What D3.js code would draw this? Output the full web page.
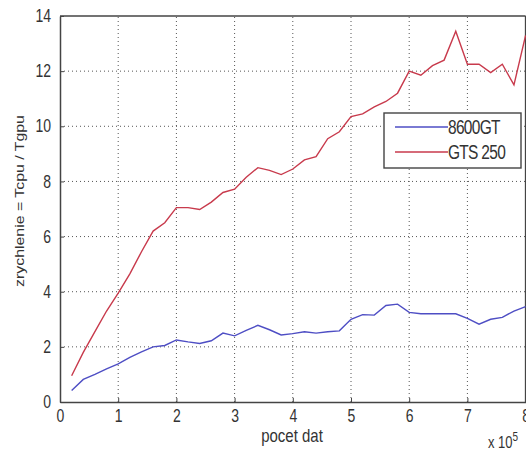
<!DOCTYPE html>
<html>
<head>
<meta charset="utf-8">
<script src="https://cdn.jsdelivr.net/npm/d3@7"></script>
<style>
  body { margin: 0; background: #fff; }
  svg { display: block; font-family: "Liberation Sans", Arial, sans-serif; }
</style>
</head>
<body>
<div id="chart"></div>
<script>
// x in units of 10^5
const xValues = [0.2, 0.4, 0.6, 0.8, 1.0, 1.2, 1.4, 1.6, 1.8, 2.0,
                 2.2, 2.4, 2.6, 2.8, 3.0, 3.2, 3.4, 3.6, 3.8, 4.0,
                 4.2, 4.4, 4.6, 4.8, 5.0, 5.2, 5.4, 5.6, 5.8, 6.0,
                 6.2, 6.4, 6.6, 6.8, 7.0, 7.2, 7.4, 7.6, 7.8, 8.0];
const gt8600 = [0.42, 0.82, 1.0, 1.2, 1.38, 1.62, 1.82, 2.0, 2.05, 2.25,
                2.18, 2.12, 2.22, 2.5, 2.4, 2.6, 2.78, 2.62, 2.43, 2.48,
                2.55, 2.5, 2.55, 2.58, 3.0, 3.17, 3.15, 3.5, 3.55, 3.25,
                3.2, 3.2, 3.2, 3.2, 3.03, 2.82, 3.0, 3.07, 3.3, 3.46];
const gts250 = [0.95, 1.8, 2.55, 3.3, 3.95, 4.65, 5.45, 6.2, 6.5, 7.05,
                7.05, 6.98, 7.25, 7.6, 7.72, 8.15, 8.5, 8.4, 8.25, 8.45,
                8.78, 8.9, 9.55, 9.8, 10.35, 10.45, 10.7, 10.9, 11.2, 12.0,
                11.85, 12.2, 12.4, 13.45, 12.25, 12.25, 11.95, 12.25, 11.5, 13.3];
const seriesNames = ['8600GT', 'GTS 250'];
const seriesColors = ['#4e4ec4', '#c83a4c'];
const xTicks = [0, 1, 2, 3, 4, 5, 6, 7, 8];
const yTicks = [0, 2, 4, 6, 8, 10, 12, 14];

const width = 526, height = 450;
const margin = { left: 60, top: 16, right: 0.4, bottom: 48 };
const stretch = 1.25; // the picture's text is a bit taller than wide

const svg = d3.select('#chart').append('svg')
    .attr('width', width)
    .attr('height', height);

const x = d3.scaleLinear().domain([0, 8]).range([margin.left, width - margin.right]);
const y = d3.scaleLinear().domain([0, 14]).range([height - margin.bottom, margin.top]);

// grid
const grid = svg.append('g');
grid.selectAll('.gx')
    .data(xTicks.slice(1, -1))
    .enter().append('line')
    .attr('x1', d => x(d)).attr('x2', d => x(d))
    .attr('y1', y(0)).attr('y2', y(14))
    .style('stroke', '#555').style('stroke-width', 1)
    .style('stroke-dasharray', '1,3');
grid.selectAll('.gy')
    .data(yTicks.slice(1, -1))
    .enter().append('line')
    .attr('x1', x(0)).attr('x2', x(8))
    .attr('y1', d => y(d)).attr('y2', d => y(d))
    .style('stroke', '#555').style('stroke-width', 1)
    .style('stroke-dasharray', '1,3');

// axes (ticks inward, matlab style)
const xAxis = svg.append('g')
    .attr('transform', `translate(0,${y(0)})`)
    .call(d3.axisBottom(x).tickValues(xTicks).tickSizeInner(-4).tickSizeOuter(0).tickPadding(6));
const yAxis = svg.append('g')
    .attr('transform', `translate(${x(0)},0)`)
    .call(d3.axisLeft(y).tickValues(yTicks).tickSizeInner(-4).tickSizeOuter(0).tickPadding(9));

[xAxis, yAxis].forEach(a => {
    a.select('.domain').style('stroke', '#444').style('stroke-width', 1.5);
    a.selectAll('.tick line').style('stroke', '#444');
    a.selectAll('text')
        .attr('transform', `scale(1,${stretch})`)
        .style('font-size', '14px').style('fill', '#333')
        .style('font-family', '"Liberation Sans", Arial, sans-serif');
});

// top + right frame
svg.append('line')
    .attr('x1', x(0)).attr('x2', x(8)).attr('y1', y(14)).attr('y2', y(14))
    .style('stroke', '#444').style('stroke-width', 1.5);
svg.append('line')
    .attr('x1', x(8)).attr('x2', x(8)).attr('y1', y(14)).attr('y2', y(0))
    .style('stroke', '#444').style('stroke-width', 1.5);

// lines
const line = d3.line()
    .x((d, i) => x(xValues[i]))
    .y(d => y(d));

[gt8600, gts250].forEach((s, i) => {
    svg.append('path')
        .datum(s)
        .attr('d', line)
        .style('fill', 'none')
        .style('stroke', seriesColors[i])
        .style('stroke-width', 1.4);
});

// labels
svg.append('text')
    .attr('transform', `translate(24,${(y(0) + y(14)) / 2 - 8}) scale(1,${stretch}) rotate(-90)`)
    .attr('text-anchor', 'middle')
    .style('font-size', '12.7px')
    .style('fill', '#333')
    .text('zrychlenie = Tcpu / Tgpu');

svg.append('text')
    .attr('transform', `translate(292,442) scale(1,${stretch})`)
    .attr('text-anchor', 'middle')
    .style('font-size', '15px')
    .style('fill', '#333')
    .text('pocet dat');

const sci = svg.append('text')
    .attr('transform', `translate(488,448) scale(1,${stretch})`)
    .style('font-size', '13px')
    .style('fill', '#333');
sci.append('tspan').text('x 10');
sci.append('tspan').attr('dy', -6).style('font-size', '10px').text('5');

// legend
const legend = svg.append('g').attr('transform', 'translate(384,113)');
legend.append('rect')
    .attr('width', 137).attr('height', 55)
    .style('fill', '#fff')
    .style('stroke', '#444')
    .style('stroke-width', 1.4);
seriesNames.forEach((name, i) => {
    const row = legend.append('g').attr('transform', `translate(0,${14 + i * 25})`);
    row.append('line')
        .attr('x1', 11).attr('x2', 64)
        .style('stroke', seriesColors[i])
        .style('stroke-width', 1.4);
    row.append('text')
        .attr('x', 64).attr('dy', '0.35em')
        .attr('transform', `scale(1,${stretch})`)
        .style('font-size', '15.5px')
        .style('fill', '#333')
        .style('letter-spacing', '-0.7px')
        .text(name);
});
</script>
</body>
</html>
